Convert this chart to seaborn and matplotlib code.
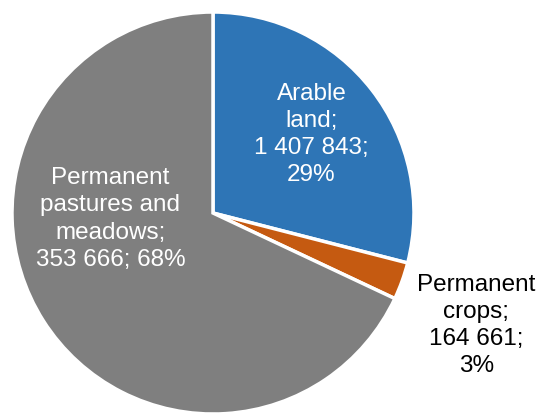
import matplotlib
matplotlib.use("Agg")
import matplotlib.pyplot as plt
import seaborn as sns
import numpy as np

categories = ["Arable land", "Permanent crops", "Permanent pastures and meadows"]
shares = [29, 3, 68]
value_labels = ["1 407 843", "164 661", "353 666"]
label_texts = [
    "Arable\nland;\n1 407 843;\n29%",
    "Permanent\ncrops;\n164 661;\n3%",
    "Permanent\npastures and\nmeadows;\n353 666; 68%",
]
colors = ["#2E75B6", "#C55A11", "#7F7F7F"]

sns.set_theme(style="white")
plt.rcParams["font.family"] = ["Liberation Sans", "DejaVu Sans"]

fig = plt.figure(figsize=(5.38, 4.16), dpi=100)
ax = fig.add_axes([0.0223, 0.0048, 0.7472, 0.9663])

wedges, _ = ax.pie(
    shares,
    colors=colors,
    startangle=90,
    counterclock=False,
    radius=1.0,
    wedgeprops=dict(edgecolor="white", linewidth=2.5),
)
ax.set_xlim(-1, 1)
ax.set_ylim(-1, 1)
ax.set_aspect("equal")
ax.axis("off")

# label anchors, in units of the pie radius
label_pos = [(0.49, 0.39), (1.31, -0.56), (-0.51, -0.03)]
label_colors = ["white", "black", "white"]
for text, (x, y), c in zip(label_texts, label_pos, label_colors):
    ax.text(x, y, text, ha="center", va="center", color=c,
            fontsize=17.5, linespacing=1.3, clip_on=False)

fig.savefig("out.png", dpi=100)
